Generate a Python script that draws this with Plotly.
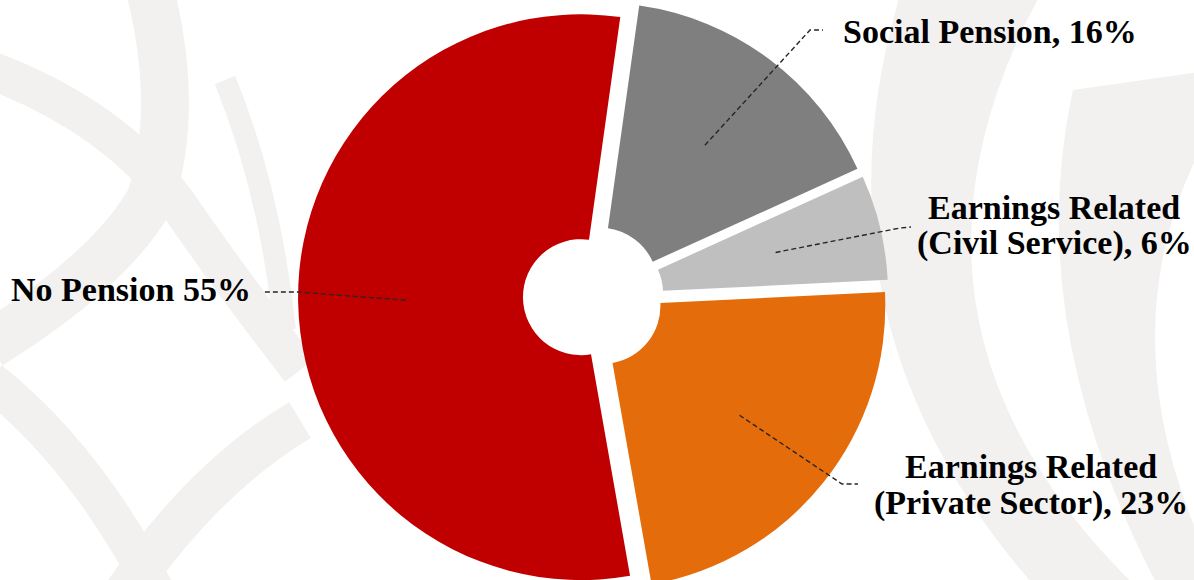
import math
import plotly.graph_objects as go

# ---- data ----
labels = ["Social Pension", "Earnings Related (Civil Service)",
          "Earnings Related (Private Sector)", "No Pension"]
values = [16, 6, 23, 55]
label_lines = [["Social Pension, 16%"],
               ["Earnings Related", "(Civil Service), 6%"],
               ["Earnings Related", "(Private Sector), 23%"],
               ["No Pension 55%"]]
colors = ["#7F7F7F", "#BFBFBF", "#E46C0A", "#C00000"]
pulls = [0.05, 0.05, 0.05, 0.037]

# ---- layout geometry (pixels) ----
W, H = 1194, 594
ROT = 8
HOLE = 0.205
CX = 591.4
dom_half = 0.39
dom_x = [CX / W - dom_half, CX / W + dom_half]
CY = H / 2
R = min(W * (dom_x[1] - dom_x[0]), H) / 2 / (1 + max(pulls))


def px(x, y):
    return x / W, 1 - y / H


def path_px(cmds):
    out = []
    for c in cmds:
        if isinstance(c, str):
            out.append(c)
        else:
            x, y = px(*c)
            out.append(f"{x:.5f},{y:.5f}")
    return " ".join(out)


fig = go.Figure(go.Pie(
    labels=labels, values=values, sort=False, direction="clockwise",
    rotation=ROT, hole=HOLE, pull=pulls, textinfo="none",
    hoverinfo="label+percent",
    marker=dict(colors=colors, line=dict(width=0)),
    domain=dict(x=dom_x, y=[0, 1]), showlegend=False,
))

shapes = []
wm = "#F2F1EF"
# faint background watermark
filled = [
    ["M", (900, -5), "Q", (800, 330), (1047, 600), "L", (1150, 600), "Q", (860, 330), (1040, -5), "Z"],
    ["M", (1073, 90), "L", (1200, 72), "L", (1200, 150), "Q", (1110, 330), (1200, 540),
     "L", (1200, 600), "L", (1165, 600), "Q", (1020, 330), (1073, 90), "Z"],
]
for p in filled:
    shapes.append(dict(type="path", xref="paper", yref="paper", path=path_px(p),
                       fillcolor=wm, line=dict(width=0), layer="below"))
stroked = [
    (["M", (-10, 70), "Q", (110, 115), (175, 200), "Q", (230, 280), (300, 370)], 38),
    (["M", (150, -10), "Q", (180, 110), (150, 200), "Q", (110, 270), (-10, 345)], 48),
    (["M", (-10, 380), "Q", (90, 460), (160, 600)], 38),
    (["M", (300, 420), "Q", (200, 480), (120, 600)], 42),
    (["M", (225, 80), "Q", (270, 190), (285, 330)], 22),
]
for p, w in stroked:
    shapes.append(dict(type="path", xref="paper", yref="paper", path=path_px(p),
                       line=dict(color=wm, width=w), layer="below"))

# leader lines computed from slice geometry
total = sum(values)
cum = 0
mids = []
for v in values:
    a0 = ROT + 360 * cum / total
    cum += v
    a1 = ROT + 360 * cum / total
    mids.append(math.radians((a0 + a1) / 2))

leader_ends = [[(810, 30), (823, 30)],
               [(900, 228), (911, 227)],
               [(842, 484), (858, 484)],
               [(298, 292), (263, 292)]]
for i, ang in enumerate(mids):
    sx, sy = math.sin(ang), -math.cos(ang)
    cx = CX + pulls[i] * R * sx
    cy = CY + pulls[i] * R * sy
    ix, iy = cx + 0.62 * R * sx, cy + 0.62 * R * sy
    pts = ["M", (ix, iy)]
    for e in leader_ends[i]:
        pts += ["L", e]
    shapes.append(dict(type="path", xref="paper", yref="paper", path=path_px(pts),
                       line=dict(color="#262626", width=1.4, dash="5px,3px"), layer="above"))

# label annotations
label_pos = [[(990, 32)],
             [(1054, 207), (1054, 243)],
             [(1031, 466), (1031, 503)],
             [(253, 289)]]
anchors = ["center", "center", "center", "right"]
annotations = []
for i, lines in enumerate(label_lines):
    for t, (x, y) in zip(lines, label_pos[i]):
        ax, ay = px(x, y)
        annotations.append(dict(text=t, x=ax, y=ay, xref="paper", yref="paper",
                                xanchor=anchors[i], yanchor="middle", showarrow=False,
                                font=dict(family="Liberation Serif", size=34,
                                          color="#000000", weight="bold")))

fig.update_layout(width=W, height=H, margin=dict(l=0, r=0, t=0, b=0),
                  paper_bgcolor="white", plot_bgcolor="white",
                  shapes=shapes, annotations=annotations)

fig.write_html("out.html", config={"displayModeBar": False},
               post_script="document.documentElement.style.overflow='hidden';"
                           "document.body.style.overflow='hidden';"
                           "document.body.style.margin='0';")
